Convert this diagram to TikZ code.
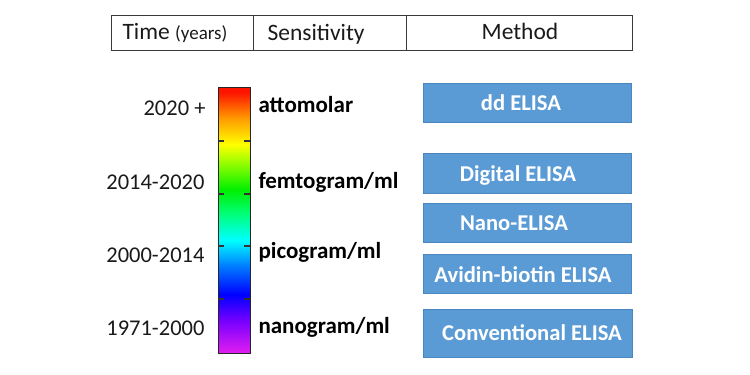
\documentclass[tikz,border=0pt]{standalone}
\usepackage{fontspec}
\setmainfont{Carlito}
\definecolor{boxblue}{HTML}{5B9BD5}
\definecolor{boxedge}{HTML}{4A86C0}
\definecolor{lineg}{HTML}{3A3A3A}
\definecolor{txt}{HTML}{1A1A1A}
\pgfdeclareverticalshading{rainbowbar}{100bp}{%
 color(0bp)=({rgb,255:red,225;green,30;blue,240});
 color(25bp)=({rgb,255:red,225;green,30;blue,240});
 color(31bp)=({rgb,255:red,120;green,0;blue,255});
 color(36bp)=({rgb,255:red,0;green,0;blue,255});
 color(41.5bp)=({rgb,255:red,0;green,128;blue,255});
 color(46.2bp)=({rgb,255:red,0;green,255;blue,255});
 color(50.9bp)=({rgb,255:red,0;green,255;blue,128});
 color(55.7bp)=({rgb,255:red,0;green,240;blue,0});
 color(61.4bp)=({rgb,255:red,170;green,255;blue,0});
 color(64.2bp)=({rgb,255:red,255;green,255;blue,0});
 color(69.3bp)=({rgb,255:red,255;green,150;blue,0});
 color(74bp)=({rgb,255:red,255;green,20;blue,0});
 color(100bp)=({rgb,255:red,255;green,20;blue,0})}
\tikzset{
  hdr/.style={font=\fontsize{23.5}{28}\selectfont, text=txt, anchor=base},
  yearlbl/.style={font=\fontsize{22.5}{27}\selectfont, text=txt, anchor=base east},
  senslbl/.style={font=\fontsize{23}{27}\selectfont\bfseries, text=black, anchor=base west},
  methodbox/.style={draw=boxedge, fill=boxblue, line width=0.8pt, inner sep=0pt},
  methodtxt/.style={font=\fontsize{22.6}{27}\selectfont\bfseries, text=white, anchor=base},
  tickmark/.style={draw=black!80, line width=1.4pt}
}
\begin{document}
\begin{tikzpicture}[x=1pt,y=-1pt]
\useasboundingbox (0,0) rectangle (750,375);
% header
\node[draw=lineg, line width=0.8pt, minimum width=521pt, minimum height=35pt, anchor=north west, inner sep=0pt] (header) at (111,15) {};
\draw[lineg, line width=0.8pt] (253,15) -- (253,50);
\draw[lineg, line width=0.8pt] (406,15) -- (406,50);
\node[hdr, anchor=base west] (time) at (119,39) {Time {\fontsize{19}{22}\selectfont(years)}};
\node[hdr, anchor=base west] (sens) at (264,40) {Sensitivity};
\node[hdr] (meth) at (520,39) {Method};
% colour bar
\shade[shading=rainbowbar] (218,87) rectangle (250,353);
\node[draw=black!85, line width=1.2pt, minimum width=32pt, minimum height=266pt, anchor=north west, inner sep=0pt] (bar) at (218,87) {};
\foreach \ty in {141,194,246,299}{
  \draw[tickmark] (218,\ty) -- (224,\ty);
  \draw[tickmark] (244,\ty) -- (250,\ty);
}
% year labels
\node[yearlbl] (y1) at (209,115) {2020 +};
\node[yearlbl] (y2) at (208,189) {2014-2020};
\node[yearlbl] (y3) at (208,262) {2000-2014};
\node[yearlbl] (y4) at (208,335) {1971-2000};
% sensitivity labels
\node[senslbl] (s1) at (255,112) {attomolar};
\node[senslbl] (s2) at (255,188) {femtogram/ml};
\node[senslbl] (s3) at (255,258) {picogram/ml};
\node[senslbl] (s4) at (255,333) {nanogram/ml};
% method boxes
\node[methodbox, minimum width=208pt, minimum height=39pt, anchor=north west] (m1) at (423,83) {};
\node[methodbox, minimum width=208pt, minimum height=40pt, anchor=north west] (m2) at (423,153) {};
\node[methodbox, minimum width=208pt, minimum height=39pt, anchor=north west] (m3) at (423,203) {};
\node[methodbox, minimum width=208pt, minimum height=39pt, anchor=north west] (m4) at (423,254) {};
\node[methodbox, minimum width=209pt, minimum height=48pt, anchor=north west] (m5) at (423,309) {};
\node[methodtxt] (t1) at (521,110) {dd ELISA};
\node[methodtxt] (t2) at (518,181) {Digital ELISA};
\node[methodtxt] (t3) at (514,230) {Nano-ELISA};
\node[methodtxt] (t4) at (523,282) {Avidin-biotin ELISA};
\node[methodtxt] (t5) at (532,340) {Conventional ELISA};
\end{tikzpicture}
\end{document}
